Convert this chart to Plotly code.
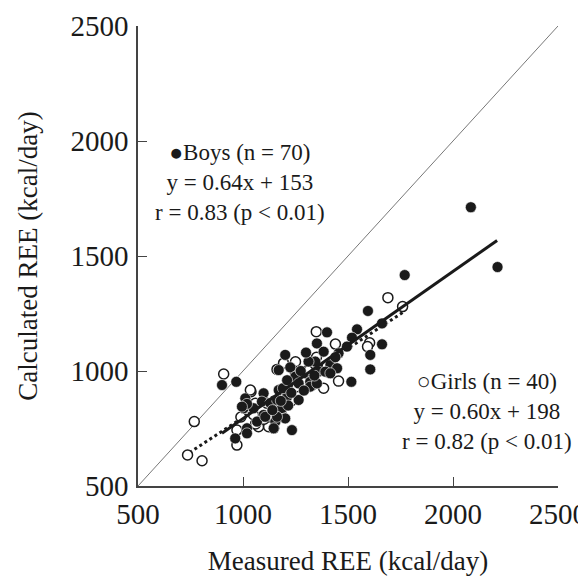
import plotly.graph_objects as go

# Boys (filled circles): measured REE, calculated REE (kcal/day)
boys_measured = [2085, 2212, 1770, 1595, 1543, 1662, 1519, 1400, 1662, 1606,
                 1606, 1516, 1352, 1384, 1495, 1455, 1416, 1448, 1344, 1312,
                 1360, 1201, 1241, 1257, 1320, 1392, 900, 968, 1170, 1098,
                 1011, 1003, 1050, 1090, 1130, 1170, 1210, 1265, 1186, 1201,
                 1098, 1067, 1154, 1233, 1019, 963, 1019, 1320, 1352, 1416,
                 1225, 1249, 1265, 1190, 1162, 1215, 995, 1106, 1019, 1146,
                 1162, 1275, 1230, 1290, 1340, 1140, 1180, 1440, 1300, 1210]
boys_calculated = [1712, 1452, 1417, 1261, 1181, 1207, 1145, 1168, 1116, 1070,
                   1007, 953, 1120, 1084, 1106, 1077, 1026, 1012, 1041, 1041,
                   997, 1070, 1004, 961, 953, 997, 939, 953, 1004, 903,
                   881, 838, 838, 867, 860, 917, 888, 874, 838, 794,
                   809, 780, 780, 743, 751, 707, 857, 932, 946, 990,
                   1016, 975, 946, 925, 874, 850, 845, 801, 729, 751,
                   801, 1000, 905, 915, 980, 830, 870, 1060, 1080, 960]

# Girls (open circles)
girls_measured = [1690, 1760, 1349, 1603, 1593, 1440, 1455, 1193, 1384, 908,
                  1273, 1329, 1038, 1059, 1074, 1146, 971, 768, 736, 805,
                  971, 1122, 1162, 1289, 1257, 1114, 1035, 1060, 1200, 1250,
                  1310, 1100, 1180, 1230, 1350, 1290, 1150, 990, 1050, 1400]
girls_calculated = [1319, 1280, 1171, 1123, 1106, 1117, 956, 1034, 925, 987,
                    932, 939, 910, 860, 758, 751, 743, 780, 635, 610,
                    678, 758, 1007, 997, 932, 860, 917, 770, 900, 1040,
                    1000, 790, 820, 870, 1060, 950, 870, 800, 810, 1020]

# Regression lines (slope, intercept, x-range)
boys_fit = (0.64, 153, [900, 2210])
girls_fit = (0.60, 198, [745, 1770])

tick_vals = [500, 1000, 1500, 2000, 2500]
identity = [500, 2500]

FONT = "Liberation Serif, Times New Roman, serif"

fig = go.Figure()

fig.add_trace(go.Scatter(x=identity, y=identity, mode="lines",
                         line=dict(color="#555555", width=0.8), hoverinfo="skip"))

gx = girls_fit[2]
fig.add_trace(go.Scatter(x=gx, y=[girls_fit[0] * v + girls_fit[1] for v in gx],
                         mode="lines", line=dict(color="#1a1a1a", width=3, dash="dot")))

fig.add_trace(go.Scatter(x=girls_measured, y=girls_calculated, mode="markers",
                         marker=dict(symbol="circle", size=10, color="white",
                                     line=dict(color="#1a1a1a", width=1.5))))

fig.add_trace(go.Scatter(x=boys_measured, y=boys_calculated, mode="markers",
                         marker=dict(symbol="circle", size=11, color="#1a1a1a",
                                     line=dict(color="white", width=0.6))))

bx = boys_fit[2]
fig.add_trace(go.Scatter(x=bx, y=[boys_fit[0] * v + boys_fit[1] for v in bx],
                         mode="lines", line=dict(color="#1a1a1a", width=3)))

axis_common = dict(
    range=[500, 2500], tickvals=tick_vals, ticks="inside", ticklen=9,
    tickwidth=1.3, tickcolor="#444444", showline=True, linecolor="#444444",
    linewidth=1.5, showgrid=False, zeroline=False, mirror=False,
    automargin=False, ticklabeloverflow="allow",
    tickfont=dict(family=FONT, size=29, color="#1a1a1a"),
)

# page body has an 8px default margin, so the figure is sized to fit inside it
fig.update_layout(
    width=578, height=568,
    margin=dict(l=130, r=28, t=18, b=90),
    plot_bgcolor="white", paper_bgcolor="white",
    showlegend=False,
    font=dict(family=FONT, color="#1a1a1a"),
    xaxis=dict(**axis_common, ticklabelstandoff=1,
               title=dict(text="Measured REE (kcal/day)", standoff=24,
                          font=dict(family=FONT, size=27, color="#1a1a1a"))),
    yaxis=dict(**axis_common, ticklabelstandoff=2,
               title=dict(text="Calculated REE (kcal/day)", standoff=25,
                          font=dict(family=FONT, size=27, color="#1a1a1a"))),
)

ann_font = dict(family=FONT, size=23, color="#1a1a1a")
boys_text = "<br>".join(["●Boys (n = 70)", "y = 0.64x + 153", "r = 0.83 (p < 0.01)"])
girls_text = "<br>".join(["○Girls (n = 40)", "y = 0.60x + 198", "r = 0.82 (p < 0.01)"])
fig.add_annotation(x=0.243, y=0.6587, xref="paper", yref="paper", text=boys_text,
                   showarrow=False, font=ann_font, align="center",
                   xanchor="center", yanchor="middle")
fig.add_annotation(x=0.831, y=0.1609, xref="paper", yref="paper", text=girls_text,
                   showarrow=False, font=ann_font, align="center",
                   xanchor="center", yanchor="middle")

fig.write_html("out.html")
